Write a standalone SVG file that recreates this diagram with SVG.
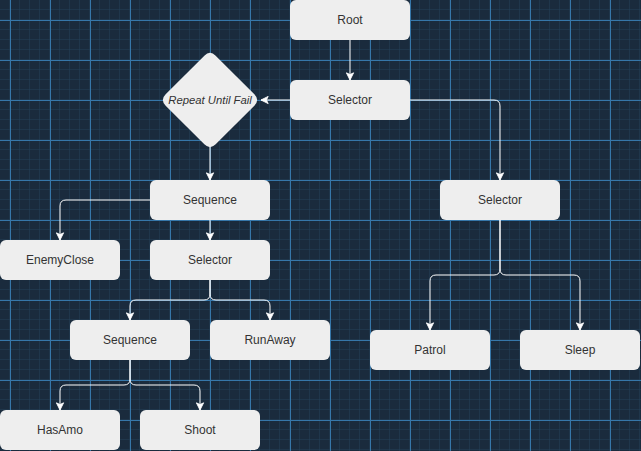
<svg xmlns="http://www.w3.org/2000/svg" width="641" height="451" viewBox="0 0 641 451">
<style>
.node rect, .node path { fill: #eeeeee; }
.node text { font-family: "Liberation Sans", Arial, sans-serif; font-size: 12px; fill: #333333; text-anchor: middle; dominant-baseline: central; }
.node text.it { font-style: italic; font-size: 11.3px; }
#edges path { fill: none; stroke: #ffffff; stroke-width: 1; marker-end: url(#arrow); }
</style>
<defs>
<pattern id="minor" width="10" height="10" patternUnits="userSpaceOnUse">
<path d="M10,0 V10 M0,10 H10" fill="none" stroke="#243f57" stroke-width="1"/>
</pattern>
<pattern id="major" x="10" y="20" width="40" height="40" patternUnits="userSpaceOnUse">
<path d="M0.5,0 V40 M0,0.5 H40" fill="none" stroke="#3677aa" stroke-width="1"/>
</pattern>
<marker id="arrow" viewBox="0 0 10 10" refX="9" refY="5" markerWidth="9" markerHeight="9" markerUnits="userSpaceOnUse" orient="auto">
<path d="M1,1 L9,5 L1,9 L3,5 Z" fill="#ffffff" stroke="#ffffff" stroke-width="1"/>
</marker>
</defs>
<rect width="641" height="451" fill="#1a2b3d"/>
<rect x="-0.5" y="-0.5" width="642" height="452" fill="url(#minor)"/>
<rect width="641" height="451" fill="url(#major)"/>

<g id="edges">
<path d="M350,40 V80"/>
<path d="M290,100 H261"/>
<path d="M410,100 H494 Q500,100 500,106 V180"/>
<path d="M210,147 V180"/>
<path d="M150,200 H66 Q60,200 60,206 V240"/>
<path d="M210,220 V240"/>
<path d="M210,280 V294 Q210,300 204,300 H136 Q130,300 130,306 V320"/>
<path d="M210,280 V294 Q210,300 216,300 H264 Q270,300 270,306 V320"/>
<path d="M130,360 V379 Q130,385 124,385 H66 Q60,385 60,391 V410"/>
<path d="M130,360 V379 Q130,385 136,385 H194 Q200,385 200,391 V410"/>
<path d="M500,220 V269 Q500,275 494,275 H436 Q430,275 430,281 V330"/>
<path d="M500,220 V269 Q500,275 506,275 H574 Q580,275 580,281 V330"/>
</g>

<g id="root" class="node"><rect x="290" y="0" width="120" height="40" rx="6"/><text x="350" y="20">Root</text></g>
<g id="selector1" class="node"><rect x="290" y="80" width="120" height="40" rx="6"/><text x="350" y="100">Selector</text></g>
<g id="repeat" class="node"><path d="M204.34,55.66 Q210,50 215.66,55.66 L254.34,94.34 Q260,100 254.34,105.66 L215.66,144.34 Q210,150 204.34,144.34 L165.66,105.66 Q160,100 165.66,94.34 Z"/><text class="it" x="210" y="100">Repeat Until Fail</text></g>
<g id="sequence1" class="node"><rect x="150" y="180" width="120" height="40" rx="6"/><text x="210" y="200">Sequence</text></g>
<g id="enemyclose" class="node"><rect x="0" y="240" width="120" height="40" rx="6"/><text x="60" y="260">EnemyClose</text></g>
<g id="selector2" class="node"><rect x="150" y="240" width="120" height="40" rx="6"/><text x="210" y="260">Selector</text></g>
<g id="sequence2" class="node"><rect x="70" y="320" width="120" height="40" rx="6"/><text x="130" y="340">Sequence</text></g>
<g id="runaway" class="node"><rect x="210" y="320" width="120" height="40" rx="6"/><text x="270" y="340">RunAway</text></g>
<g id="hasamo" class="node"><rect x="0" y="410" width="120" height="40" rx="6"/><text x="60" y="430">HasAmo</text></g>
<g id="shoot" class="node"><rect x="140" y="410" width="120" height="40" rx="6"/><text x="200" y="430">Shoot</text></g>
<g id="selector3" class="node"><rect x="440" y="180" width="120" height="40" rx="6"/><text x="500" y="200">Selector</text></g>
<g id="patrol" class="node"><rect x="370" y="330" width="120" height="40" rx="6"/><text x="430" y="350">Patrol</text></g>
<g id="sleep" class="node"><rect x="520" y="330" width="120" height="40" rx="6"/><text x="580" y="350">Sleep</text></g>
</svg>
